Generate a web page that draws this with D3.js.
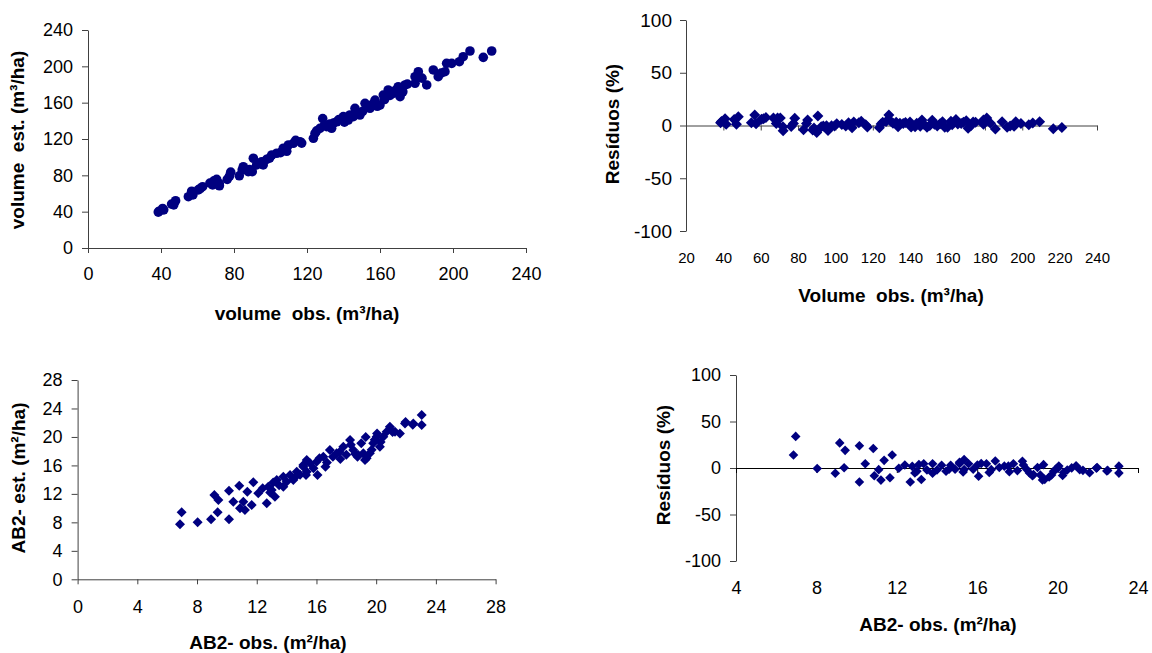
<!DOCTYPE html>
<html>
<head>
<meta charset="utf-8">
<script src="https://cdn.jsdelivr.net/npm/d3@7"></script>
<style>
  body { margin: 0; background: #fff; }
  svg { display: block; }
</style>
</head>
<body>
<svg id="chart" width="1152" height="653"></svg>
<script>
const volObs = [39.0, 38.5, 40.9, 41.5, 45.8, 48.0, 47.0, 55.0, 56.8, 57.5, 60.4, 62.8, 61.5, 66.8, 68.3, 69.0, 70.5, 71.9, 72.0, 76.3,
  78.2, 77.5, 82.9, 84.5, 85.1, 87.8, 88.5, 90.6, 90.0, 92.4, 93.5, 95.2, 96.0, 97.9, 99.5, 100.7, 103.4, 105.5, 107.0, 108.9,
  109.8, 112.5, 113.8, 116.2, 117.1, 123.5, 124.4, 125.3, 127.1, 128.6, 129.5, 130.8, 132.5, 133.5, 134.5, 136.3, 137.5, 139.9, 140.5, 142.6,
  143.5, 145.4, 146.3, 147.5, 149.0, 150.5, 151.8, 153.0, 154.5, 156.0, 157.3, 158.5, 160.0, 161.8, 162.5, 164.5, 165.5, 167.3, 168.5, 170.0,
  171.0, 172.5, 173.7, 175.0, 179.2, 179.2, 181.0, 183.0, 185.6, 189.2, 191.9, 193.5, 195.6, 196.5, 199.3, 203.5, 205.6, 209.3, 216.6, 221.2]
const volEst = [40.5, 39.5, 43.5, 42.0, 48.4, 52.0, 47.5, 56.5, 62.5, 58.5, 64.0, 67.5, 65.5, 71.5, 69.5, 74.0, 75.5, 71.0, 68.5, 75.6,
  83.5, 79.0, 79.5, 86.0, 89.5, 84.0, 86.5, 98.8, 84.0, 91.4, 93.0, 95.0, 91.5, 97.6, 99.0, 102.4, 104.3, 105.0, 109.8, 106.5,
  113.4, 115.3, 118.5, 117.0, 115.5, 120.8, 126.3, 129.0, 131.8, 142.5, 135.0, 133.6, 136.5, 131.8, 137.5, 139.0, 141.5, 144.6, 138.5, 140.9,
  146.5, 144.6, 153.8, 149.0, 146.4, 150.5, 159.3, 155.0, 153.8, 158.5, 162.9, 156.0, 157.4, 168.4, 163.5, 174.0, 168.0, 170.3, 173.5, 177.6,
  166.6, 172.0, 179.5, 180.5, 181.3, 188.6, 194.1, 187.0, 179.5, 196.0, 188.6, 192.5, 194.1, 203.3, 203.3, 205.1, 210.6, 216.9, 209.9, 216.9]
const volRes = [3.8, 2.6, 6.4, 1.2, 5.7, 8.3, 1.1, 2.7, 10.0, 1.7, 6.0, 7.5, 6.5, 7.0, 1.8, 7.2, 7.1, -1.3, -4.9, -0.9,
  6.8, 1.9, -4.1, 1.8, 5.2, -4.3, -2.3, 9.1, -6.7, -1.1, -0.5, -0.2, -4.7, -0.3, -0.5, 1.7, 0.9, -0.5, 2.6, -2.2,
  3.3, 2.5, 4.1, 0.7, -1.4, -2.2, 1.5, 3.0, 3.7, 10.0, 4.2, 2.1, 3.0, -1.3, 2.2, 2.0, 2.9, 3.4, -1.4, -1.2,
  2.1, -0.6, 5.1, 1.0, -1.7, 0.0, 4.9, 1.3, -0.5, 1.6, 3.6, -1.6, -1.6, 4.1, 0.6, 5.8, 1.5, 1.8, 3.0, 4.5,
  -2.6, -0.3, 3.3, 3.1, 1.2, 5.2, 7.2, 2.2, -3.3, 3.6, -1.7, -0.5, -0.8, 3.5, 2.0, 0.8, 2.4, 3.6, -3.1, -1.9]

// basal area AB2 observed / estimated (m2/ha), bottom-left panel
const abObs = [6.86, 6.97, 8.04, 8.94, 9.16, 9.38, 9.43, 10.14, 10.14, 10.43, 10.83, 10.88, 11.1, 11.21, 11.37, 11.66, 11.77, 12.1, 12.4, 12.67,
  12.77, 12.9, 13.0, 13.1, 13.22, 13.34, 13.5, 13.78, 13.78, 14.0, 14.23, 14.45, 14.6, 14.68, 14.9, 15.12, 15.12, 15.3, 15.35, 15.35,
  15.57, 15.8, 16.01, 16.07, 16.2, 16.46, 16.6, 16.7, 16.9, 17.1, 17.35, 17.55, 17.6, 17.8, 18.0, 18.25, 18.3, 18.47, 18.6, 18.75,
  18.8, 19.0, 19.14, 19.25, 19.3, 19.36, 19.58, 19.7, 19.8, 19.9, 20.03, 20.06, 20.25, 20.3, 20.48, 20.7, 20.92, 21.1, 21.26, 21.59,
  21.93, 21.97, 22.45, 22.49, 23.05, 23.05]
const abEst = [7.72, 9.41, 8.0, 8.43, 11.84, 9.41, 11.14, 8.43, 12.45, 10.9, 13.15, 9.97, 10.9, 9.73, 12.3, 10.44, 13.62, 12.08, 12.8, 10.67,
  13.0, 12.2, 12.54, 13.6, 11.6, 13.95, 13.2, 14.41, 13.0, 13.7, 14.65, 13.95, 14.4, 15.11, 14.7, 15.82, 16.05, 14.65, 15.11, 16.76,
  16.29, 15.6, 16.52, 14.65, 17.0, 17.22, 15.8, 16.4, 18.16, 17.2, 17.7, 17.9, 16.9, 18.62, 17.5, 19.56, 18.9, 18.16, 17.6, 17.2,
  17.46, 19.1, 17.7, 16.76, 20.0, 17.0, 17.7, 18.2, 19.1, 19.6, 20.03, 20.5, 18.62, 19.3, 20.03, 20.73, 21.43, 20.7, 20.73, 20.5,
  21.9, 22.1, 21.7, 21.9, 23.1, 21.67]
// residuals (%) bottom-right panel
const abRes = [14, 34, -0.5, -5.7, 27, 0.3, 19, -15, 24, 4.5, 21, -8.4, -1.8, -13, 8.2, -10.5, 14, -0.2, 3.2, -15,
  1.8, -5.4, -3.5, 3.8, -12.3, 4.6, -2.2, 4.6, -5.7, -2.1, 3.0, -3.5, -1.4, 2.9, -1.3, 4.6, 6.2, -4.2, -1.6, 9.2,
  4.6, -1.3, 3.2, -8.8, 4.9, 4.6, -4.8, -1.8, 7.5, 0.6, 2.0, 2.0, -4.0, 4.6, -2.8, 7.2, 3.3, -1.7, -5.4, -8.3,
  -7.1, 0.5, -7.5, -12.9, 3.6, -12.2, -9.6, -7.6, -3.5, -1.5, 0.0, 2.2, -8.0, -4.9, -2.2, 0.1, 2.4, -1.9, -2.5, -5.0,
  -0.1, 0.6, -3.3, -2.6, 2.0, -5.5]

// tick values
const volTicks = [0, 40, 80, 120, 160, 200, 240]
const volResTicks = [20, 40, 60, 80, 100, 120, 140, 160, 180, 200, 220, 240]
const resTicks = [-100, -50, 0, 50, 100]
const abTicks = [0, 4, 8, 12, 16, 20, 24, 28]
const abResTicks = [4, 8, 12, 16, 20, 24]

const font = '"Liberation Sans", Arial, sans-serif'
const navy = '#000080'
const axisColor = '#404040'
const plain = d => String(d)   // keep the ascii hyphen like the original, not the unicode minus

const svg = d3.select('#chart').attr('font-family', font)

const diamond = r => `M0,${-r}L${r},0L0,${r}L${-r},0Z`

function styleAxis(g, size) {
  g.attr('font-family', font)
  g.select('.domain').attr('stroke', axisColor)
  g.selectAll('.tick line').attr('stroke', axisColor)
  g.selectAll('.tick text').attr('fill', '#000').attr('font-size', size)
}

function xTitle(text, cx, cy) {
  svg.append('text')
    .attr('x', cx).attr('y', cy).attr('dy', '0.35em')
    .attr('text-anchor', 'middle')
    .attr('font-weight', 'bold').attr('font-size', 19)
    .style('white-space', 'pre')
    .text(text)
}

function yTitle(text, cx, cy) {
  svg.append('text')
    .attr('transform', 'translate(' + cx + ',' + cy + ') rotate(-90)')
    .attr('dy', '0.35em')
    .attr('text-anchor', 'middle')
    .attr('font-weight', 'bold').attr('font-size', 19)
    .style('white-space', 'pre')
    .text(text)
}

// ---- panel 1: volume est. vs obs.
const x1 = d3.scaleLinear().domain([0, 240]).range([88, 526])
const y1 = d3.scaleLinear().domain([0, 240]).range([248, 30])

svg.append('g')
  .attr('transform', 'translate(0,' + y1(0) + ')')
  .call(d3.axisBottom(x1).tickValues(volTicks).tickFormat(plain).tickSize(5).tickPadding(14).tickSizeOuter(0))
  .call(g => styleAxis(g, 18))
svg.append('g')
  .attr('transform', 'translate(' + x1(0) + ',0)')
  .call(d3.axisLeft(y1).tickValues(volTicks).tickFormat(plain).tickSize(6).tickPadding(9).tickSizeOuter(0))
  .call(g => styleAxis(g, 18))

svg.append('g').selectAll('circle')
  .data(volObs)
  .enter().append('circle')
    .attr('cx', d => x1(d))
    .attr('cy', (d, i) => y1(volEst[i]))
    .attr('r', 4.8)
    .attr('fill', navy)

xTitle('volume  obs. (m³/ha)', 307, 313)
yTitle('volume  est. (m³/ha)', 17, 140)

// ---- panel 2: residuals vs volume obs.
const x2 = d3.scaleLinear().domain([20, 240]).range([686, 1097])
const y2 = d3.scaleLinear().domain([-100, 100]).range([231, 20])

svg.append('g')
  .attr('transform', 'translate(' + x2(20) + ',0)')
  .call(d3.axisLeft(y2).tickValues(resTicks).tickFormat(plain).tickSize(6).tickPadding(8).tickSizeOuter(0))
  .call(g => styleAxis(g, 19))
// zero line with ticks
svg.append('g')
  .attr('transform', 'translate(0,' + y2(0) + ')')
  .call(d3.axisBottom(x2).tickValues(volResTicks).tickSize(5).tickFormat('').tickSizeOuter(0))
  .call(g => styleAxis(g, 15))
// labels sit below the plot (Excel "low" position)
svg.append('g')
  .attr('transform', 'translate(0,' + y2(-100) + ')')
  .call(d3.axisBottom(x2).tickValues(volResTicks).tickFormat(plain).tickSize(0).tickPadding(21))
  .call(g => styleAxis(g, 15))
  .call(g => g.select('.domain').remove())

svg.append('g').selectAll('path')
  .data(volObs)
  .enter().append('path')
    .attr('d', diamond(5.5))
    .attr('transform', (d, i) => 'translate(' + x2(d) + ',' + y2(volRes[i]) + ')')
    .attr('fill', navy)

xTitle('Volume  obs. (m³/ha)', 891, 295)
yTitle('Resíduos (%)', 612, 124)

// ---- panel 3: AB2 est. vs obs.
const x3 = d3.scaleLinear().domain([0, 28]).range([77.6, 495.6])
const y3 = d3.scaleLinear().domain([0, 28]).range([579.3, 380])

svg.append('g')
  .attr('transform', 'translate(0,' + y3(0) + ')')
  .call(d3.axisBottom(x3).tickValues(abTicks).tickFormat(plain).tickSize(5).tickPadding(16).tickSizeOuter(0))
  .call(g => styleAxis(g, 18))
svg.append('g')
  .attr('transform', 'translate(' + x3(0) + ',0)')
  .call(d3.axisLeft(y3).tickValues(abTicks).tickFormat(plain).tickSize(6).tickPadding(9).tickSizeOuter(0))
  .call(g => styleAxis(g, 18))

svg.append('g').selectAll('path')
  .data(abObs)
  .enter().append('path')
    .attr('d', diamond(5))
    .attr('transform', (d, i) => 'translate(' + x3(d) + ',' + y3(abEst[i]) + ')')
    .attr('fill', navy)

// the original has this one squeezed against the bottom edge
xTitle('AB2- obs. (m²/ha)', 268, 642)
yTitle('AB2- est. (m²/ha)', 18, 478)

// ---- panel 4: residuals vs AB2 obs.
const x4 = d3.scaleLinear().domain([4, 24]).range([736, 1138])
const y4 = d3.scaleLinear().domain([-100, 100]).range([561, 375])

svg.append('g')
  .attr('transform', 'translate(' + x4(4) + ',0)')
  .call(d3.axisLeft(y4).tickValues(resTicks).tickFormat(plain).tickSize(6).tickPadding(9).tickSizeOuter(0))
  .call(g => styleAxis(g, 18))
svg.append('g')
  .attr('transform', 'translate(0,' + y4(0) + ')')
  .call(d3.axisBottom(x4).tickValues(abResTicks).tickSize(5).tickFormat('').tickSizeOuter(0))
  .call(g => styleAxis(g, 18))
  .call(g => g.selectAll('.domain, .tick line').attr('stroke', '#000'))
svg.append('g')
  .attr('transform', 'translate(0,' + y4(-100) + ')')
  .call(d3.axisBottom(x4).tickValues(abResTicks).tickFormat(plain).tickSize(0).tickPadding(20))
  .call(g => styleAxis(g, 18))
  .call(g => g.select('.domain').remove())

svg.append('g').selectAll('path')
  .data(abObs)
  .enter().append('path')
    .attr('d', diamond(4.8))
    .attr('transform', (d, i) => 'translate(' + x4(d) + ',' + y4(abRes[i]) + ')')
    .attr('fill', navy)

xTitle('AB2- obs. (m²/ha)', 938, 624)
yTitle('Resíduos (%)', 663, 465)
</script>
</body>
</html>
